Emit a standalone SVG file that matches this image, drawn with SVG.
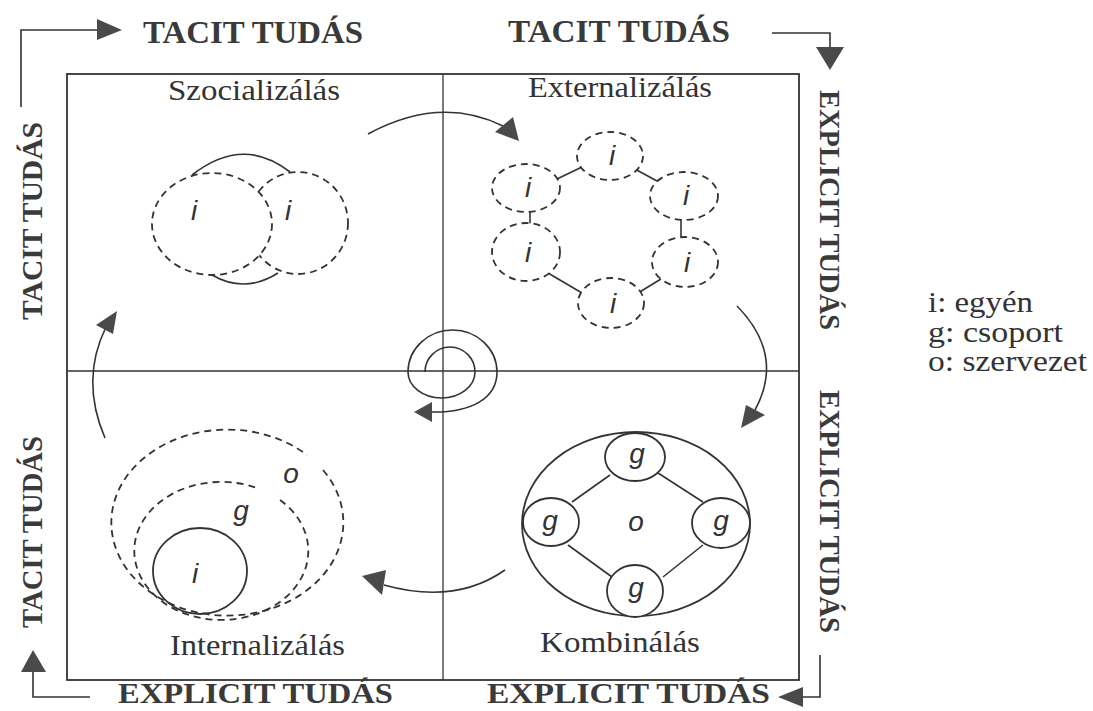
<svg xmlns="http://www.w3.org/2000/svg" width="1093" height="711" viewBox="0 0 1093 711">
<style>
.ax{font-family:"Liberation Serif","Times New Roman",serif;font-weight:bold;fill:#3a3a3a}
.q{font-family:"Liberation Serif","Times New Roman",serif;font-size:30px;fill:#333}
.lg{font-family:"Liberation Serif","Times New Roman",serif;font-size:29px;fill:#333}
.lb{font-family:"Liberation Sans",Arial,sans-serif;font-style:italic;font-size:28px;fill:#333;text-anchor:middle}
.ln{fill:none;stroke:#333;stroke-width:1.6}
.ds{fill:#fff;stroke:#333;stroke-width:1.8;stroke-dasharray:7 5}
.dn{fill:none;stroke:#333;stroke-width:1.8;stroke-dasharray:7 5}
.sl{fill:#fff;stroke:#333;stroke-width:1.8}
.ah{fill:#4a4a4a;stroke:none}
</style>
<rect width="1093" height="711" fill="#fff"/>

<g id="frame">
<rect x="67" y="74" width="732" height="606" fill="none" stroke="#333" stroke-width="1.8"/>
<line x1="443" y1="74" x2="443" y2="680" stroke="#333" stroke-width="1.3"/>
<line x1="67" y1="371" x2="799" y2="371" stroke="#333" stroke-width="1.3"/>
</g>

<g id="axis-labels">
<text class="ax" x="143" y="43" font-size="31" textLength="220" lengthAdjust="spacingAndGlyphs">TACIT TUDÁS</text>
<text class="ax" x="508" y="42" font-size="31" textLength="222" lengthAdjust="spacingAndGlyphs">TACIT TUDÁS</text>
<text class="ax" x="118" y="703" font-size="29" textLength="275" lengthAdjust="spacingAndGlyphs">EXPLICIT TUDÁS</text>
<text class="ax" x="487" y="703" font-size="29" textLength="283" lengthAdjust="spacingAndGlyphs">EXPLICIT TUDÁS</text>
<text class="ax" font-size="29" textLength="240" lengthAdjust="spacingAndGlyphs" transform="translate(820,90) rotate(90)">EXPLICIT TUDÁS</text>
<text class="ax" font-size="29" textLength="243" lengthAdjust="spacingAndGlyphs" transform="translate(820,390) rotate(90)">EXPLICIT TUDÁS</text>
<text class="ax" font-size="29" textLength="198" lengthAdjust="spacingAndGlyphs" transform="translate(42,320) rotate(-90)">TACIT TUDÁS</text>
<text class="ax" font-size="29" textLength="192" lengthAdjust="spacingAndGlyphs" transform="translate(42,628) rotate(-90)">TACIT TUDÁS</text>
</g>

<g id="corner-arrows">
<polyline class="ln" points="21,107 21,30 98,30" stroke-width="1.8"/>
<polygon class="ah" points="97,19 122,30 97,40"/>
<polyline class="ln" points="772,33 830,33 830,48" stroke-width="1.8"/>
<polygon class="ah" points="816,47 844,47 830,70"/>
<polyline class="ln" points="820,655 820,697 802,697" stroke-width="1.8"/>
<polygon class="ah" points="803,687 803,707 778,697"/>
<polyline class="ln" points="90,697 33,697 33,671" stroke-width="1.8"/>
<polygon class="ah" points="21,672 46,672 33,650"/>
</g>

<g id="szocializalas">
<text class="q" x="168" y="100" textLength="172" lengthAdjust="spacingAndGlyphs">Szocializálás</text>
<path class="ln" d="M192,175 Q243,135 290,172" stroke-width="1.8"/>
<path class="ln" d="M212,275 Q245,294 278,273" stroke-width="1.8"/>
<ellipse class="ds" cx="298" cy="223" rx="50" ry="51"/>
<ellipse class="ds" cx="212" cy="224" rx="60" ry="51"/>
<text class="lb" x="194" y="220">i</text>
<text class="lb" x="288" y="220">i</text>
</g>

<g id="externalizalas">
<text class="q" x="528" y="97" textLength="184" lengthAdjust="spacingAndGlyphs">Externalizálás</text>
<g class="ln" stroke-width="1.6">
<line x1="633" y1="168" x2="657" y2="181"/>
<line x1="582" y1="167" x2="557" y2="179"/>
<line x1="530" y1="211" x2="530" y2="224"/>
<line x1="681" y1="219" x2="681" y2="239"/>
<line x1="548" y1="273" x2="582" y2="293"/>
<line x1="661" y1="279" x2="638" y2="293"/>
</g>
<ellipse class="ds" cx="610" cy="156" rx="33" ry="24"/>
<ellipse class="ds" cx="526" cy="188" rx="34" ry="24"/>
<ellipse class="ds" cx="684" cy="196" rx="34" ry="24"/>
<ellipse class="ds" cx="526" cy="252" rx="34" ry="29"/>
<ellipse class="ds" cx="685" cy="262" rx="33" ry="25"/>
<ellipse class="ds" cx="611" cy="303" rx="33" ry="25"/>
<text class="lb" x="612" y="165">i</text>
<text class="lb" x="528" y="197">i</text>
<text class="lb" x="686" y="205">i</text>
<text class="lb" x="528" y="262">i</text>
<text class="lb" x="687" y="272">i</text>
<text class="lb" x="613" y="313">i</text>
</g>

<g id="kombinalas">
<text class="q" x="540" y="652" textLength="160" lengthAdjust="spacingAndGlyphs">Kombinálás</text>
<ellipse class="sl" cx="636" cy="524" rx="114" ry="92"/>
<g class="ln" stroke-width="1.8">
<line x1="572" y1="502" x2="610" y2="475"/>
<line x1="658" y1="473" x2="703" y2="502"/>
<line x1="568" y1="545" x2="612" y2="577"/>
<line x1="663" y1="577" x2="703" y2="545"/>
</g>
<ellipse class="sl" cx="635" cy="457" rx="30" ry="24"/>
<ellipse class="sl" cx="551" cy="522" rx="28" ry="24"/>
<ellipse class="sl" cx="721" cy="523" rx="29" ry="25"/>
<ellipse class="sl" cx="635" cy="591" rx="28" ry="26"/>
<text class="lb" x="637" y="463">g</text>
<text class="lb" x="550" y="530">g</text>
<text class="lb" x="721" y="530">g</text>
<text class="lb" x="636" y="531">o</text>
<text class="lb" x="636" y="597">g</text>
</g>

<g id="internalizalas">
<text class="q" x="170" y="655" textLength="175" lengthAdjust="spacingAndGlyphs">Internalizálás</text>
<path class="dn" d="M323,470 A116,93 0 1 1 307,455"/>
<path class="dn" d="M280,500 A87,69 0 1 1 257,488"/>
<ellipse class="sl" style="fill:none" cx="200" cy="571" rx="47" ry="43"/>
<text class="lb" x="291" y="483">o</text>
<text class="lb" x="241" y="520">g</text>
<text class="lb" x="195" y="583">i</text>
</g>

<g id="legend">
<text class="lg" x="928" y="312" textLength="105" lengthAdjust="spacingAndGlyphs">i: egyén</text>
<text class="lg" x="928" y="342" textLength="135" lengthAdjust="spacingAndGlyphs">g: csoport</text>
<text class="lg" x="928" y="371" textLength="159" lengthAdjust="spacingAndGlyphs">o: szervezet</text>
</g>

<g id="connectors">
<path class="ln" stroke-width="2" d="M368,134 Q440,95 503,126"/>
<polygon class="ah" points="495,132 513,117 519,141"/>
<path class="ln" stroke-width="2" d="M737,306 Q785,355 755,410"/>
<polygon class="ah" points="746,405 765,415 741,428"/>
<path class="ln" stroke-width="2" d="M505,570 Q455,605 384,585"/>
<polygon class="ah" points="386,570 382,595 362,576"/>
<path class="ln" stroke-width="2" d="M105,438 Q80,380 106,327"/>
<polygon class="ah" points="96,325 113,334 117,311"/>
<path class="ln" stroke-width="2" d="M425,372 A25,25 0 0 1 475,372 A33.5,26 0 0 1 408,372 A44.5,42 0 0 1 497,372 C497,398 472,413 430,412"/>
<polygon class="ah" points="432,402 432,422 414,412"/>
</g>
</svg>
